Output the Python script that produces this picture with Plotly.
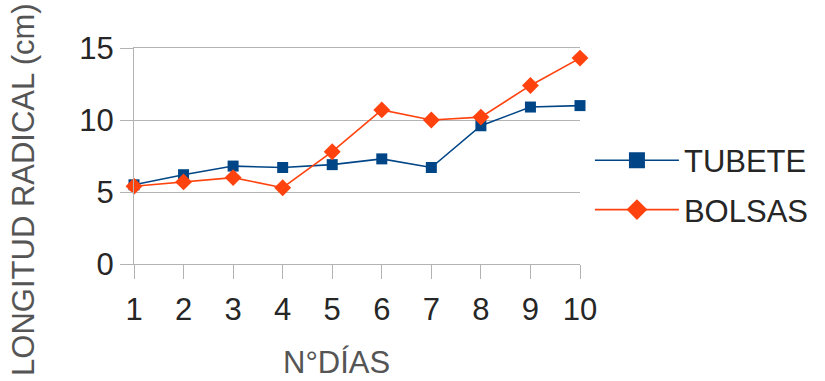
import plotly.graph_objects as go

# Root length measured each day for the two container types
dias = [1, 2, 3, 4, 5, 6, 7, 8, 9, 10]
tubete = [5.5, 6.2, 6.8, 6.7, 6.9, 7.3, 6.7, 9.6, 10.9, 11.0]
bolsas = [5.4, 5.7, 6.0, 5.3, 7.8, 10.7, 10.0, 10.2, 12.4, 14.3]
y_ticks = [0, 5, 10, 15]

BLUE = "#004586"
ORANGE = "#ff420e"
GRID = "#b3b3b3"
FONT = "Liberation Sans"
TICK_FONT = dict(family=FONT, size=31, color="#262626")

series = [
    ("TUBETE", tubete, BLUE, "square", 11, 16),
    ("BOLSAS", bolsas, ORANGE, "diamond", 13, 16),
]

fig = go.Figure()
for name, vals, color, symbol, size, legend_size in series:
    # plotted series
    fig.add_trace(go.Scatter(
        x=dias, y=vals, name=name, mode="lines+markers",
        line=dict(color=color, width=1.6),
        marker=dict(symbol=symbol, size=size, color=color),
        legendgroup=name, showlegend=False, cliponaxis=False,
    ))
    # legend entry with a larger key symbol
    fig.add_trace(go.Scatter(
        x=[None], y=[None], name=name, mode="lines+markers",
        line=dict(color=color, width=1.6),
        marker=dict(symbol=symbol, size=legend_size, color=color),
        legendgroup=name, showlegend=True,
    ))

fig.update_layout(
    width=825, height=381,
    margin=dict(l=134, r=244, t=48, b=117),
    paper_bgcolor="white", plot_bgcolor="white",
    font=dict(family=FONT, color="#333333"),
    legend=dict(
        x=1.02, y=0.365, xanchor="left", yanchor="middle",
        font=dict(family=FONT, size=31, color="#262626"),
        itemwidth=84, tracegroupgap=6, traceorder="grouped",
        bgcolor="rgba(0,0,0,0)",
    ),
    xaxis=dict(
        range=[1, 10], tickvals=dias, ticktext=[str(d) for d in dias],
        showgrid=False, zeroline=False,
        showline=True, mirror=True, linecolor=GRID, linewidth=1,
        ticks="outside", ticklen=14, tickcolor=GRID, tickwidth=1,
        ticklabelstandoff=4, tickfont=TICK_FONT,
    ),
    yaxis=dict(
        range=[0, 15], tickvals=y_ticks,
        showgrid=True, gridcolor=GRID, gridwidth=1, zeroline=False,
        showline=True, linecolor=GRID, linewidth=1,
        ticks="outside", ticklen=13, tickcolor=GRID, tickwidth=1,
        tickfont=TICK_FONT,
    ),
    annotations=[
        dict(text="N°DÍAS", xref="paper", yref="paper", x=0.454, y=0,
             yshift=-98, xanchor="center", yanchor="middle", showarrow=False,
             font=dict(family=FONT, size=31, color="#555555")),
        dict(text="LONGITUD RADICAL (cm)", xref="paper", yref="paper",
             x=0, y=0.343, xshift=-110, xanchor="center", yanchor="middle",
             textangle=-90, showarrow=False,
             font=dict(family=FONT, size=31, color="#555555")),
    ],
)

fig.write_html("out.html")
